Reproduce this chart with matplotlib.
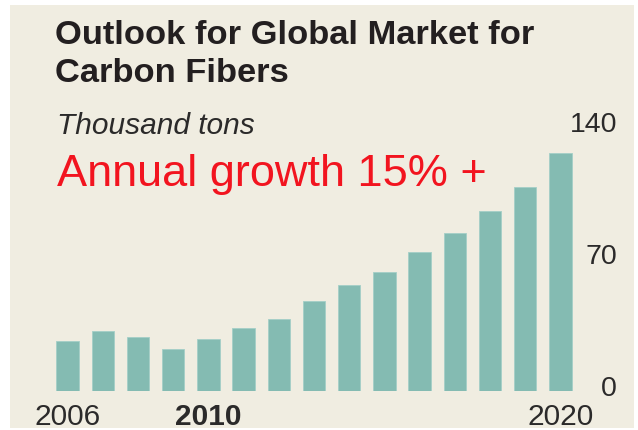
import matplotlib
matplotlib.use('Agg')
import matplotlib.pyplot as plt
from matplotlib.patches import Rectangle
from matplotlib.transforms import ScaledTranslation

# data (thousand tons)
years = list(range(2006, 2021))
volumes = [26.6, 31.5, 28.4, 22.3, 27.5, 33.3, 38.2, 47.4, 55.8, 62.7, 73.4, 83.5, 95.2, 107.6, 125.6]
year_ticks = [2006, 2010, 2020]
value_ticks = [0, 70, 140]

bg = '#f0ede1'
bar_color = '#84bbb2'
text_color = '#2b2a2a'
red = '#f2141f'

plt.rcParams['font.family'] = ['Liberation Sans', 'DejaVu Sans']

W, H = 638, 430
fig = plt.figure(figsize=(W / 100, H / 100), dpi=100, facecolor='white')

# beige panel
fig.patches.append(Rectangle((10 / W, 2 / H), 624 / W, 423 / H, transform=fig.transFigure,
                             facecolor=bg, edgecolor='none', zorder=-10))

# axes placed in pixel terms: x 50..578, y 126..391
ax = fig.add_axes([50 / W, (H - 391) / H, 528 / W, 265 / H])
ax.set_facecolor('none')
ax.bar(years, volumes, width=0.64, color=bar_color, edgecolor='#a4cfc7', linewidth=0.6)
ax.set_xlim(2005.5, 2020.5)
ax.set_ylim(0, 140)
for s in ax.spines.values():
    s.set_visible(False)

ax.set_xticks(year_ticks)
ax.set_xticklabels([str(y) for y in year_ticks])
ax.tick_params(axis='x', length=0, pad=8.3, labelsize=21.5, labelcolor=text_color)
ax.get_xticklabels()[1].set_fontweight('bold')

ax.yaxis.tick_right()
ax.set_yticks(value_ticks)
ax.set_yticklabels([str(v) for v in value_ticks])
ax.tick_params(axis='y', length=0, pad=28, labelsize=20.5, labelcolor=text_color)
shift = ScaledTranslation(0, -5.5 / 100, fig.dpi_scale_trans)
for lbl in ax.get_yticklabels():
    lbl.set_horizontalalignment('right')
    lbl.set_verticalalignment('baseline')
    lbl.set_transform(lbl.get_transform() + shift)

# titles
fig.text(55 / W, 1 - 44 / H, 'Outlook for Global Market for', fontsize=24.8, fontweight='bold',
         color='#231f20', va='baseline')
fig.text(55 / W, 1 - 82 / H, 'Carbon Fibers', fontsize=24.8, fontweight='bold',
         color='#231f20', va='baseline')
fig.text(57 / W, 1 - 134 / H, 'Thousand tons', fontsize=21.5, style='italic',
         color=text_color, va='baseline')
fig.text(57 / W, 1 - 186 / H, 'Annual growth 15% +', fontsize=32.5,
         color=red, va='baseline')

fig.savefig('out.png', dpi=100, facecolor='white')
